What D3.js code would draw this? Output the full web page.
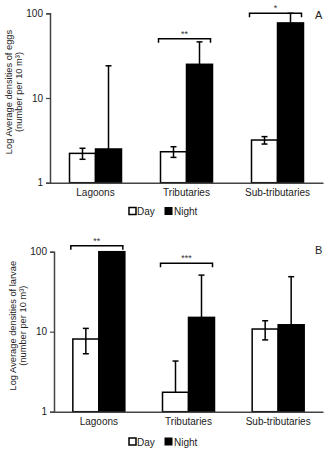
<!DOCTYPE html>
<html>
<head>
<meta charset="utf-8">
<script src="https://cdn.jsdelivr.net/npm/d3@7"></script>
<style>
  body { margin: 0; background: #fff; }
  svg { display: block; font-family: "Liberation Sans", Arial, sans-serif; }
</style>
</head>
<body>
<div id="chart"></div>
<script>
// categories and tick labels
const categories = ["Lagoons", "Tributaries", "Sub-tributaries"];
const tickValues = [1, 10, 100];

// panel A - eggs
const eggsDay = [2.22, 2.32, 3.19];
const eggsDayUp = [2.55, 2.66, 3.5];
const eggsDayLow = [1.89, 1.99, 2.86];
const eggsNight = [2.5, 25, 77];
const eggsNightUp = [24, 46, 100];
const eggsBrackets = [
    { cat: "Tributaries", y: 50, label: "**" },
    { cat: "Sub-tributaries", y: 100, label: "*" }
];

// panel B - larvae
const larvaeDay = [8.1, 1.75, 10.8];
const larvaeDayUp = [11.0, 4.3, 13.7];
const larvaeDayLow = [5.3, null, 7.9];
const larvaeNight = [100, 15.1, 12.2];
const larvaeNightUp = [null, 51, 48.7];
const larvaeBrackets = [
    { cat: "Lagoons", y: 119, label: "**" },
    { cat: "Tributaries", y: 71.6, label: "***" }
];

const width = 332, height = 458;
const svg = d3.select('#chart').append('svg')
    .attr('width', width)
    .attr('height', height);

function drawPanel(p) {
    const g = svg.append('g');

    const x = d3.scaleBand()
        .domain(categories)
        .range([p.left, p.right])
        .padding(0);

    const y = d3.scaleLog()
        .domain([1, 100])
        .range([p.bottom, p.top]);

    const barW = 26;

    // bars
    categories.forEach((c, i) => {
        const cx = x(c) + x.bandwidth() / 2;
        const bars = [
            { x0: cx - barW, v: p.day[i], up: p.dayUp[i], low: p.dayLow[i], fill: '#fff' },
            { x0: cx, v: p.night[i], up: p.nightUp[i], low: null, fill: '#000' }
        ];
        bars.forEach(b => {
            g.append('rect')
                .attr('x', b.x0)
                .attr('y', y(b.v))
                .attr('width', barW)
                .attr('height', p.bottom - y(b.v))
                .attr('fill', b.fill)
                .attr('stroke', '#000')
                .attr('stroke-width', 1.5);
            const mx = b.x0 + barW / 2;
            const top = b.up != null ? y(b.up) : y(b.v);
            const bot = b.low != null ? y(b.low) : y(b.v);
            if (b.up != null || b.low != null) {
                g.append('line')
                    .attr('x1', mx).attr('x2', mx)
                    .attr('y1', top).attr('y2', bot)
                    .attr('stroke', '#000').attr('stroke-width', 1.5);
            }
            if (b.up != null) {
                g.append('line')
                    .attr('x1', mx - 3).attr('x2', mx + 3)
                    .attr('y1', top).attr('y2', top)
                    .attr('stroke', '#000').attr('stroke-width', 1.5);
            }
            if (b.low != null) {
                g.append('line')
                    .attr('x1', mx - 3).attr('x2', mx + 3)
                    .attr('y1', bot).attr('y2', bot)
                    .attr('stroke', '#000').attr('stroke-width', 1.5);
            }
        });
    });

    // significance brackets
    p.brackets.forEach(br => {
        const cx = x(br.cat) + x.bandwidth() / 2;
        const x1 = cx - barW - 2, x2 = cx + barW - 2;
        const by = y(br.y);
        g.append('path')
            .attr('d', `M${x1},${by + 4}V${by}H${x2}V${by + 4}`)
            .attr('fill', 'none')
            .attr('stroke', '#000')
            .attr('stroke-width', 1.5);
        g.append('text')
            .attr('x', (x1 + x2) / 2)
            .attr('y', by - 2)
            .attr('text-anchor', 'middle')
            .style('font-size', '9px')
            .style('fill', '#333')
            .text(br.label);
    });

    // y axis
    const yAxis = g.append('g')
        .attr('transform', `translate(${p.left},0)`)
        .call(d3.axisLeft(y).tickValues(tickValues).tickFormat(d3.format('d')).tickSize(4).tickPadding(3));
    yAxis.select('.domain').attr('stroke', '#444').attr('stroke-width', 1.5);
    yAxis.selectAll('.tick line').attr('stroke', '#444').attr('stroke-width', 1.2);
    yAxis.selectAll('.tick text').style('font-size', '10px').style('font-family', '"Liberation Sans", Arial, sans-serif').attr('fill', '#222');

    // x axis
    const xAxis = g.append('g')
        .attr('transform', `translate(0,${p.bottom})`)
        .call(d3.axisBottom(x).tickSize(0).tickPadding(6));
    xAxis.select('.domain').attr('stroke', '#444').attr('stroke-width', 1.5);
    xAxis.selectAll('.tick text').style('font-size', '10px').style('font-family', '"Liberation Sans", Arial, sans-serif').attr('fill', '#222');

    // y label
    const ly = (p.top + p.bottom) / 2 - 6;
    g.append('text')
        .attr('transform', `translate(${p.labelX},${ly}) rotate(-90)`)
        .attr('text-anchor', 'middle')
        .style('font-size', '9.3px')
        .style('fill', '#222')
        .text(p.ylabel);
    g.append('text')
        .attr('transform', `translate(${p.labelX + 10},${ly}) rotate(-90)`)
        .attr('text-anchor', 'middle')
        .style('font-size', '9.3px')
        .style('fill', '#222')
        .text('(number per 10 m³)');

    // panel letter
    g.append('text')
        .attr('x', 315)
        .attr('y', p.letterY)
        .style('font-size', '11px')
        .style('fill', '#222')
        .text(p.letter);

    // legend
    const lg = g.append('g').attr('transform', `translate(128,${p.legendY})`);
    lg.append('rect').attr('x', 1).attr('y', -4).attr('width', 7).attr('height', 7)
        .attr('fill', '#fff').attr('stroke', '#000').attr('stroke-width', 1.5);
    lg.append('text').attr('x', 9).attr('y', 3.5).style('font-size', '10px').style('fill', '#222').text('Day');
    lg.append('rect').attr('x', 37).attr('y', -4).attr('width', 7).attr('height', 7)
        .attr('fill', '#000').attr('stroke', '#000').attr('stroke-width', 1);
    lg.append('text').attr('x', 46).attr('y', 3.5).style('font-size', '10px').style('fill', '#222').text('Night');
}

drawPanel({
    left: 50, right: 323, top: 13.3, bottom: 182.7,
    day: eggsDay, dayUp: eggsDayUp, dayLow: eggsDayLow,
    night: eggsNight, nightUp: eggsNightUp,
    brackets: eggsBrackets,
    ylabel: 'Log Average densities of eggs',
    labelX: 12, letter: 'A', letterY: 19, legendY: 211.5
});

drawPanel({
    left: 54, right: 323, top: 251.7, bottom: 411.7,
    day: larvaeDay, dayUp: larvaeDayUp, dayLow: larvaeDayLow,
    night: larvaeNight, nightUp: larvaeNightUp,
    brackets: larvaeBrackets,
    ylabel: 'Log Average densities of larvae',
    labelX: 16, letter: 'B', letterY: 254, legendY: 442
});
</script>
</body>
</html>
